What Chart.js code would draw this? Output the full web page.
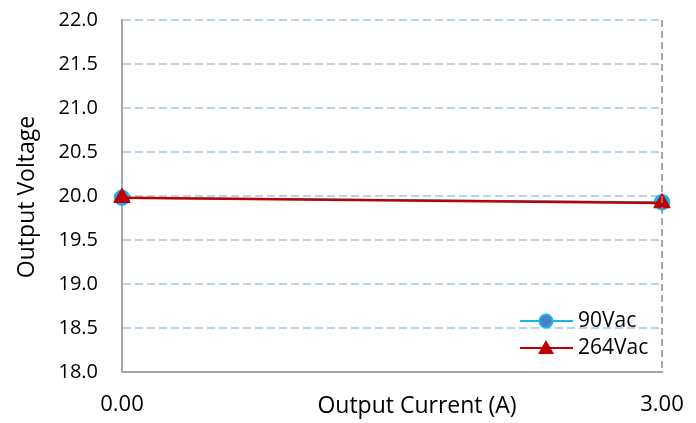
<!DOCTYPE html>
<html>
<head>
<meta charset="utf-8">
<script src="https://cdn.jsdelivr.net/npm/chart.js@4/dist/chart.umd.min.js"></script>
<style>
  html, body { margin: 0; padding: 0; background: #fff; }
  #wrap { width: 696px; height: 423px; position: relative; }
</style>
</head>
<body>
<div id="wrap"><canvas id="chart"></canvas></div>
<script>
// Data
const currents = [0, 3];
const vac90 = [19.98, 19.93];
const vac264 = [19.98, 19.92];
const seriesNames = ["90Vac", "264Vac"];
const xTickValues = [0, 3];
const yTitle = "Output Voltage";
const xTitle = "Output Current (A)";

const FONT = "'Open Sans', 'Noto Sans', sans-serif";

// axis titles, right border and the in-plot legend
const extras = {
    id: "extras",
    afterDraw(chart) {
        const ctx = chart.ctx, a = chart.chartArea;
        ctx.save();
        // right border
        ctx.strokeStyle = "#8c8c8c";
        ctx.lineWidth = 1.5;
        ctx.setLineDash([7, 4]);
        ctx.beginPath();
        ctx.moveTo(a.right, a.top);
        ctx.lineTo(a.right, a.bottom);
        ctx.stroke();
        ctx.setLineDash([]);

        // titles
        ctx.fillStyle = "#000";
        ctx.font = "23px " + FONT;
        ctx.textAlign = "center";
        ctx.textBaseline = "middle";
        ctx.fillText(xTitle, 417, 406);
        ctx.translate(27, 197);
        ctx.rotate(-Math.PI / 2);
        ctx.fillText(yTitle, 0, 0);
        ctx.restore();

        // legend
        ctx.save();
        ctx.font = "21px " + FONT;
        ctx.textBaseline = "middle";
        ctx.textAlign = "left";
        seriesNames.forEach((name, i) => {
            const ds = chart.data.datasets[i];
            const y = 321 + i * 27;
            ctx.strokeStyle = ds.borderColor;
            ctx.lineWidth = 2;
            ctx.beginPath();
            ctx.moveTo(520, y);
            ctx.lineTo(573, y);
            ctx.stroke();
            if (ds.pointStyle === "triangle") {
                ctx.fillStyle = ds.pointBackgroundColor;
                ctx.beginPath();
                ctx.moveTo(546, y - 8);
                ctx.lineTo(554, y + 6);
                ctx.lineTo(538, y + 6);
                ctx.closePath();
                ctx.fill();
            } else {
                ctx.fillStyle = "#4a80c4";
                ctx.strokeStyle = ds.pointBorderColor;
                ctx.lineWidth = 2;
                ctx.beginPath();
                ctx.arc(546, y, 6.5, 0, Math.PI * 2);
                ctx.fill();
                ctx.stroke();
            }
            ctx.fillStyle = "#000";
            ctx.fillText(name, 578, y);
        });
        ctx.restore();
    }
};

function noPad(s) {
    s.paddingTop = 0;
    s.paddingBottom = 0;
    s.paddingLeft = 0;
    s.paddingRight = 0;
}

new Chart("chart", {
    type: "line",
    data: {
        datasets: [{
            label: seriesNames[0],
            data: currents.map((x, i) => ({x: x, y: vac90[i]})),
            order: 1,
            borderColor: "#1cb4ee",
            borderWidth: 2,
            pointStyle: "circle",
            pointRadius: 7.5,
            pointBackgroundColor: "#2ba6e0",
            pointBorderColor: "#1cb4ee",
            pointBorderWidth: 1.5,
            fill: false
        }, {
            label: seriesNames[1],
            data: currents.map((x, i) => ({x: x, y: vac264[i]})),
            order: 0,
            borderColor: "#c00000",
            borderWidth: 2.5,
            pointStyle: "triangle",
            pointRadius: 9.5,
            pointBackgroundColor: "#c00000",
            pointBorderColor: "#c00000",
            pointBorderWidth: 1,
            fill: false
        }]
    },
    options: {
        responsive: true,
        maintainAspectRatio: false,
        animation: false,
        clip: false,
        layout: { padding: { top: 20, right: 34, left: 0, bottom: 0 } },
        plugins: {
            legend: { display: false },
            tooltip: { enabled: false }
        },
        scales: {
            x: {
                type: "linear",
                min: 0,
                max: 3,
                afterBuildTicks: s => { s.ticks = xTickValues.map(v => ({value: v})); },
                afterFit: s => { s.height = 51; noPad(s); },
                ticks: {
                    padding: 20,
                    color: "#000",
                    font: { size: 22, family: FONT },
                    callback: v => v.toFixed(2)
                },
                grid: { display: false, drawTicks: false },
                border: { display: true, color: "#a6a6a6", width: 2 }
            },
            y: {
                min: 18,
                max: 22,
                afterFit: s => { s.width = 122; noPad(s); },
                ticks: {
                    stepSize: 0.5,
                    padding: 24,
                    color: "#000",
                    font: { size: 20, family: FONT },
                    callback: v => v.toFixed(1)
                },
                grid: {
                    color: "#bcd0e8",
                    lineWidth: 2,
                    drawTicks: false
                },
                border: { display: true, color: "#a6a6a6", width: 2, dash: [8, 4] }
            }
        }
    },
    plugins: [extras]
});
</script>
</body>
</html>
